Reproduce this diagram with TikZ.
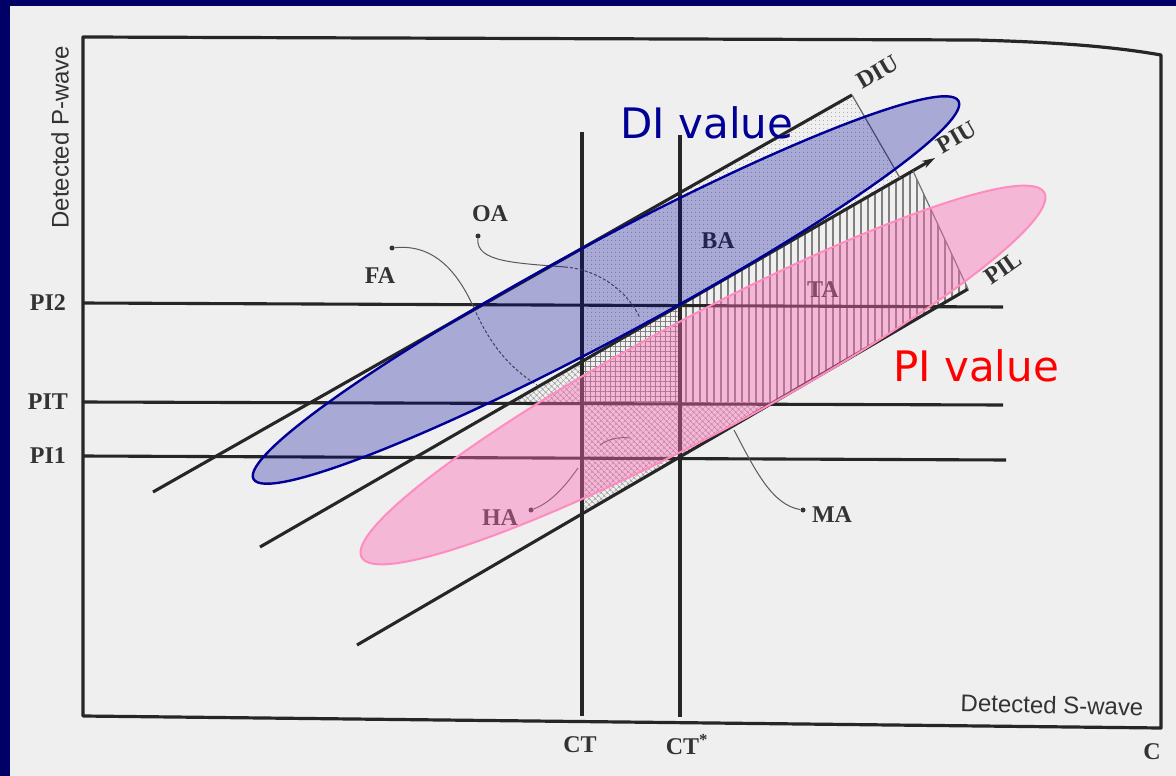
\documentclass[tikz,border=0pt]{standalone}
\usepackage{fontspec}
\setmainfont{Liberation Serif}
\setsansfont{Liberation Sans}
\newfontfamily\slidefont{DejaVu Sans}
\usetikzlibrary{shapes.geometric,patterns.meta,arrows.meta}
\definecolor{slidenavy}{RGB}{0,0,102}
\definecolor{scanpaper}{RGB}{239,239,239}
\definecolor{dinavy}{RGB}{0,0,150}
\definecolor{pihot}{RGB}{255,105,180}
\definecolor{piedge}{RGB}{255,140,190}

\begin{document}
\begin{tikzpicture}[x=1pt,y=-1pt,
  scan/.style={line width=3.1pt, black!85},
  frame/.style={line width=3.2pt, black!85, line join=round},
  leader/.style={line width=1pt, black!65},
  dot/.style={circle, fill=black!80, inner sep=0pt, minimum size=5pt},
  lbl/.style={font=\bfseries\fontsize{24}{26}\selectfont, text=black!80, inner sep=1pt},
  axlbl/.style={font=\sffamily\fontsize{24}{26}\selectfont, text=black!80, inner sep=1pt},
  blob/.style={ellipse, inner sep=0pt},
  diblob/.style={blob, draw=dinavy, line width=2.4pt, fill=dinavy, fill opacity=0.29,
    minimum width=800pt, minimum height=96pt, rotate=28.2},
  piblob/.style={blob, draw=piedge, line width=2pt, fill=pihot, fill opacity=0.41,
    minimum width=774pt, minimum height=116pt, rotate=28.1},
  value/.style={font=\slidefont\fontsize{42}{48}\selectfont, inner sep=0pt},
  hatchv/.style={pattern={Lines[angle=90,distance=7pt,line width=1.4pt]}, pattern color=black!50},
  hatchgrid/.style={pattern={Hatch[angle=0,distance=5pt,line width=0.8pt]}, pattern color=black!50},
  hatchx/.style={pattern={Hatch[angle=45,distance=4pt,line width=0.6pt]}, pattern color=black!40},
  hatchdot/.style={pattern={Dots[distance=4pt,radius=0.6pt]}, pattern color=black!40}
]
  % slide and scanned page
  \fill[slidenavy] (0,0) rectangle (1176,776);
  \fill[scanpaper] (10,6) rectangle (1176,776);

  % shaded zones of the bands
  \fill[hatchdot] (582,248) -- (852,95) -- (900,178) -- (582,361.5) -- cycle;
  \fill[hatchv] (680,305) -- (913,171) -- (968,289) -- (774,402) -- (680,402) -- cycle;
  \fill[hatchgrid] (582,361.5) -- (680,305) -- (680,402) -- (582,402) -- cycle;
  \fill[hatchx] (512,402) -- (582,361.5) -- (582,402) -- cycle;
  \fill[hatchx] (582,402) -- (774,402) -- (582,514) -- cycle;

  % axes frame
  \coordinate (tl) at (83,37);
  \coordinate (bl) at (83,716);
  \coordinate (br) at (1161,728);
  \coordinate (tr) at (1161,55);
  \draw[frame] (tl) -- (976,40) .. controls (1050,42) and (1110,46) .. (tr) -- (br) -- (bl) -- cycle;

  % thresholds
  \coordinate (pi2a) at (83,303);   \coordinate (pi2b) at (1003,307);
  \coordinate (pita) at (83,402);   \coordinate (pitb) at (1003,405);
  \coordinate (pi1a) at (83,456);   \coordinate (pi1b) at (1006,460);
  \coordinate (cta) at (582,132);   \coordinate (ctb) at (582,716);
  \coordinate (ctsa) at (680,135);  \coordinate (ctsb) at (680,717);
  \draw[scan] (pi2a) -- (pi2b);
  \draw[scan] (pita) -- (pitb);
  \draw[scan] (pi1a) -- (pi1b);
  \draw[scan] (cta) -- (ctb);
  \draw[scan] (ctsa) -- (ctsb);

  % limit lines
  \coordinate (diul) at (153,492);  \coordinate (diuu) at (852,95);
  \coordinate (piul) at (260,547);  \coordinate (piuu) at (935,158);
  \coordinate (pill) at (357,645);  \coordinate (pilu) at (968,289);
  \coordinate (diucorner) at (900,178);
  \draw[scan] (diul) -- (diuu);
  \draw[scan, -{Stealth[length=13pt,width=8pt]}] (piul) -- (piuu);
  \draw[scan] (pill) -- (pilu);
  \draw[line width=1.2pt, black!60] (diuu) -- (diucorner);
  \draw[line width=1.2pt, black!55] (913,171) -- (pilu);

  % area markers
  \node[dot] (fadot) at (392,248) {};
  \node[dot] (oadot) at (478,236) {};
  \node[dot] (hadot) at (531,510) {};
  \node[dot] (madot) at (803,510) {};
  \coordinate (fabend) at (474,308);  \coordinate (faend) at (537,385);
  \coordinate (oabend) at (565,267);  \coordinate (oaend) at (640,318);
  \coordinate (haend) at (578,468);
  \coordinate (hamarka) at (600,445); \coordinate (hamarkb) at (630,438);
  \coordinate (maend) at (734,430);
  \draw[leader] (fadot) .. controls (440,243) and (462,282) .. (fabend);
  \draw[leader, densely dashed] (fabend) .. controls (490,345) and (510,368) .. (faend);
  \draw[leader] (oadot) .. controls (476,262) and (515,263) .. (oabend);
  \draw[leader, densely dashed] (oabend) .. controls (600,270) and (628,292) .. (oaend);
  \draw[leader] (hadot) .. controls (552,502) and (566,485) .. (haend);
  \draw[leader] (hamarka) .. controls (610,438) and (620,437) .. (hamarkb);
  \draw[leader] (madot) .. controls (772,505) and (755,470) .. (maend);

  % labels of the scan
  \node[axlbl, rotate=90] (pwave) at (60,137) {Detected P-wave};
  \node[axlbl, rotate=-1.5] (swave) at (1052,705) {Detected S-wave};
  \node[lbl] (lbpi2) at (48,303) {PI2};
  \node[lbl] (lbpit) at (48,402) {PIT};
  \node[lbl] (lbpi1) at (48,456) {PI1};
  \node[lbl] (lbct) at (580,745) {CT};
  \node[lbl] (lbcts) at (687,745) {CT\textsuperscript{*}};
  \node[lbl] (lbc) at (1152,752) {C};
  \node[lbl] (lbfa) at (380,276) {FA};
  \node[lbl] (lboa) at (490,214) {OA};
  \node[lbl] (lbba) at (718,241) {BA};
  \node[lbl] (lbta) at (823,290) {TA};
  \node[lbl] (lbha) at (500,518) {HA};
  \node[lbl] (lbma) at (832,515) {MA};
  \node[lbl, rotate=30] (lbdiu) at (878,72) {DIU};
  \node[lbl, rotate=30] (lbpiu) at (957,137) {PIU};
  \node[lbl, rotate=35] (lbpil) at (1003,268) {PIL};

  % overlays
  \node[diblob] (diarea) at (606,290) {};
  \node[piblob] (piarea) at (703,375) {};
  \node[value, text=dinavy] (dival) at (707,123) {DI value};
  \node[value, text=red] (pival) at (976,366) {PI value};
\end{tikzpicture}
\end{document}
